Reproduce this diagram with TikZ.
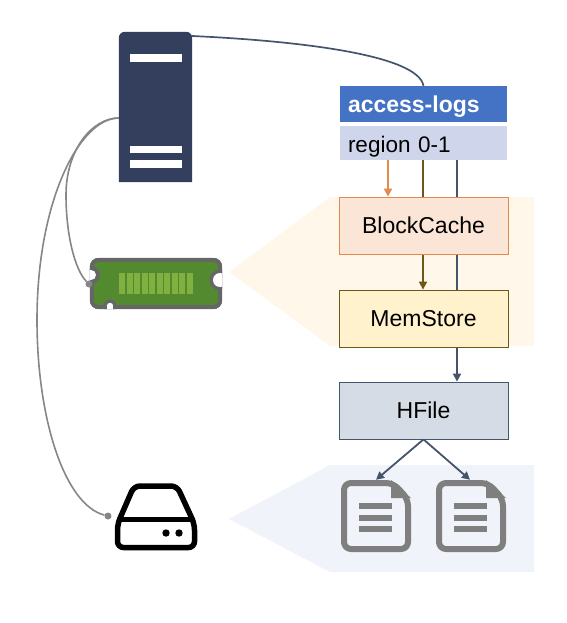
\documentclass[tikz,border=0pt]{standalone}
\usepackage{fontspec}
\setmainfont{Liberation Sans}
\usetikzlibrary{arrows.meta}
\definecolor{servernavy}{HTML}{333F5C}
\definecolor{ramgreen}{HTML}{548A2F}
\definecolor{ramchip}{HTML}{7FB040}
\definecolor{ramedge}{HTML}{666666}
\definecolor{wiregray}{HTML}{868686}
\definecolor{docgray}{HTML}{7F7F7F}
\definecolor{cacheorange}{HTML}{E58A4E}
\definecolor{storebrown}{HTML}{6E5518}
\definecolor{fileslate}{HTML}{44546A}
\definecolor{warmpanel}{HTML}{FFF8EA}
\definecolor{coolpanel}{HTML}{F0F3FA}
\definecolor{titleblue}{HTML}{4472C4}
\definecolor{regionblue}{HTML}{CFD5EA}
\definecolor{cachefill}{HTML}{FBE5D6}
\definecolor{storefill}{HTML}{FFF2CC}
\definecolor{filefill}{HTML}{D6DCE5}
\pgfdeclarelayer{bg}
\pgfsetlayers{bg,main}
\tikzset{
	box/.style={
			draw, line width=0.8pt, minimum width=169pt, minimum height=57pt, inner sep=0pt,
			font=\fontsize{23}{27}\selectfont
		},
	bar/.style={
			minimum width=167pt, inner sep=0pt, text width=151pt, align=left,
			text height=18pt, text depth=0pt, font=\fontsize{22.5}{27}\selectfont
		},
	wire/.style={wiregray, line width=1.6pt},
	dot/.style={circle, fill=wiregray, minimum size=7pt, inner sep=0pt},
	tip/.style={-{Triangle[length=8pt, width=8pt]}, line width=1.8pt}
}

\begin{document}
\begin{tikzpicture}[x=1pt, y=-1pt]
	\useasboundingbox (0, 0) rectangle (566, 623);

	% panels behind the boxes
	\begin{pgfonlayer}{bg}
		\fill[warmpanel] (229, 272) -- (330, 197) -- (534, 197) -- (534, 346) -- (330, 346) -- cycle;
		\fill[coolpanel] (229, 519) -- (330, 465) -- (534, 465) -- (534, 572) -- (330, 572) -- cycle;
	\end{pgfonlayer}

	% server
	\node[minimum width=73pt, minimum height=150pt, inner sep=0pt] (server) at (155.5, 107) {};
	\fill[servernavy] (server.south west) [rounded corners=6pt] -- (server.north west) -- (server.north east) [sharp corners] -- (server.south east) -- cycle;
	\foreach \y/\h in {58/8, 149.5/7, 164/8}
		\fill[white] (130, \y - \h/2) rectangle (182, \y + \h/2);

	% memory stick
	\node[minimum width=132pt, minimum height=51pt, inner sep=0pt] (ram) at (156, 283.5) {};
	\begin{scope}
		\clip[rounded corners=9pt] (ram.north west) rectangle (ram.south east);
		\fill[ramgreen] (ram.north west) rectangle (ram.south east);
		\draw[ramedge, line width=8pt, rounded corners=9pt] (ram.north west) rectangle (ram.south east);
		\fill[ramedge] (91, 275) circle (9);
		\fill[white] (88, 270) rectangle (91, 280);
		\fill[white] (91, 275) circle (5);
		\fill[ramedge] (220, 280) circle (10.5);
		\fill[white] (220, 280) circle (7);
		\fill[ramedge] (110, 306) circle (6.5);
		\fill[white] (110, 306) circle (3.2);
		\fill[white] (106.8, 306) rectangle (113.2, 310);
	\end{scope}
	\foreach \i in {0,...,9}
		\fill[ramchip] (119 + \i*7.5, 273) rectangle (125 + \i*7.5, 294);
	\node[dot] (ramdot) at (89, 284) {};

	% disk
	\node[minimum width=82pt, minimum height=67pt, inner sep=0pt] (disk) at (156, 516.5) {};
	\draw[black, line width=5.5pt, line join=round, rounded corners=6pt] (134, 486) -- (177, 486) -- (194.5, 524) -- (194.5, 547.5) -- (117.5, 547.5) -- (117.5, 524) -- cycle;
	\draw[black, line width=5pt] (119, 519) -- (193, 519);
	\fill[black] (166, 533) circle (3.7);
	\fill[black] (179, 533) circle (3.7);
	\node[dot] (diskdot) at (108, 516) {};

	% table on the right
	\node[bar, fill=titleblue, text=white, minimum height=36pt, font=\fontsize{23}{27}\selectfont\bfseries] (access) at (423.5, 104) {access-logs};
	\node[bar, fill=regionblue, minimum height=34pt] (region) at (423.5, 143) {region 0-1};
	\node[box, draw=cacheorange, fill=cachefill] (cache) at (423.5, 225.5) {BlockCache};
	\node[box, draw=storebrown, fill=storefill] (store) at (423.5, 318.5) {MemStore};
	\node[box, draw=fileslate, fill=filefill] (hfile) at (423.5, 410.5) {HFile};

	% two files
	\foreach \docname/\docx in {docl/341, docr/436} {
			\node[minimum width=70pt, minimum height=72pt, inner sep=0pt] (\docname) at (\docx + 35, 516) {};
			\draw[docgray, line width=6pt, line join=round, rounded corners=7pt] (\docx + 3, 483) -- (\docx + 52, 483) -- (\docx + 67, 499) -- (\docx + 67, 549) -- (\docx + 3, 549) -- cycle;
			\fill[docgray] (\docx + 50, 480) -- (\docx + 70, 498) -- (\docx + 50, 498) -- cycle;
			\foreach \y in {506, 517.5, 528.5}
				\fill[docgray] (\docx + 18, \y - 3) rectangle (\docx + 51, \y + 3);
		}

	% connectors
	\begin{pgfonlayer}{bg}
		\draw[tip, cacheorange] (region.south -| 388, 0) to (cache.north -| 388, 0);
		\draw[tip, storebrown] (region.south -| 423, 0) to (store.north -| 423, 0);
		\draw[tip, fileslate] (region.south -| 457, 0) to (hfile.north -| 457, 0);
	\end{pgfonlayer}
	\draw[tip, fileslate] (hfile.south) to (docl.north -| 376, 0);
	\draw[tip, fileslate] (hfile.south) to (docr.north -| 470, 0);
	\draw[fileslate, line width=1.7pt] (server.north east |- 0, 36) .. controls (300, 41) and (418, 55) .. (access.north);
	\draw[wire] (server.west |- 0, 118) .. controls (92, 118) and (66, 150) .. (66, 195) .. controls (66, 235) and (75, 270) .. (ramdot);
	\draw[wire] (server.west |- 0, 118) .. controls (80, 118) and (37, 200) .. (37, 320) .. controls (37, 420) and (65, 505) .. (diskdot);
\end{tikzpicture}
\end{document}
